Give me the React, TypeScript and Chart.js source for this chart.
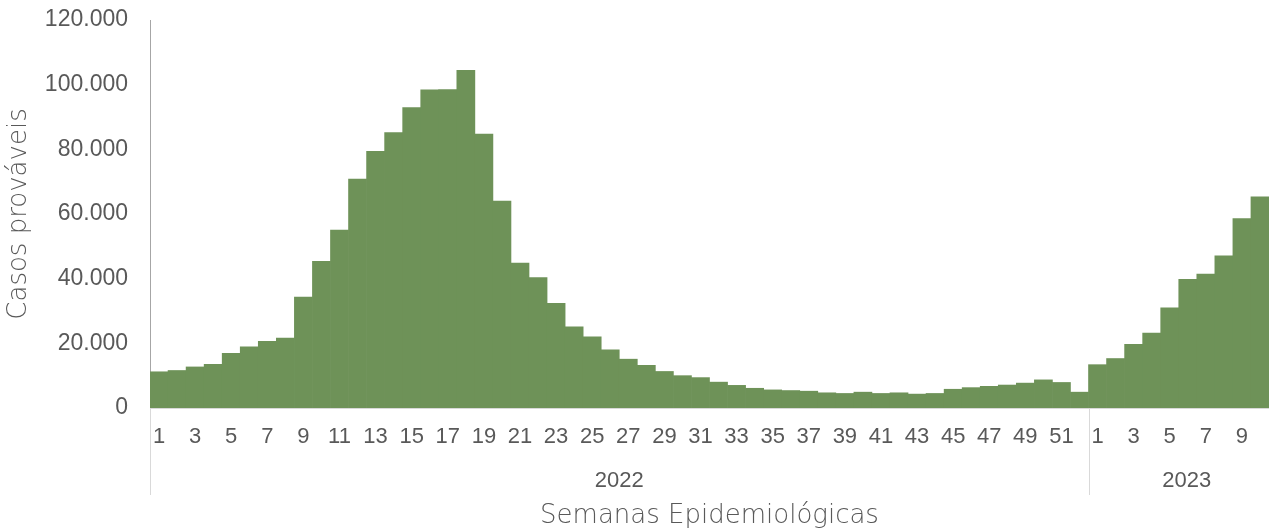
import React, { useEffect, useRef } from "react";
import { Chart, registerables } from "chart.js";

Chart.register(...registerables);

const years = ["2022", "2023"];
const weeks2022 = [
  11200, 11600, 12700, 13500, 16900, 18900, 20600, 21600, 34300, 45400,
  55000, 70800, 79400, 85200, 92900, 98400, 98500, 104400, 84700, 64000,
  44800, 40300, 32400, 25100, 22000, 18000, 15100, 13200, 11300, 10000,
  9400, 8000, 7000, 6100, 5600, 5400, 5200, 4700, 4500, 4900,
  4500, 4700, 4300, 4500, 5800, 6300, 6700, 7100, 7700, 8700,
  7900, 4900,
];
const weeks2023 = [13400, 15300, 19700, 23200, 31000, 39800, 41400, 47100, 58600, 65300];
const yTicks = [0, 20000, 40000, 60000, 80000, 100000, 120000];
const yTitle = "Casos prováveis";
const xTitle = "Semanas Epidemiológicas";

const series = [weeks2022, weeks2023];
const labels: string[] = [];
const values: number[] = [];
series.forEach((arr) => arr.forEach((v, i) => { labels.push(String(i + 1)); values.push(v); }));

const fmt = (v: number) => {
  const s = String(Math.round(v));
  return s.replace(/\B(?=(\d{3})+(?!\d))/g, ".");
};

const TEXT = "#595959";
const TICK_FONT = "'Liberation Sans', Arial, sans-serif";
const TITLE_FONT = "'DejaVu Sans', sans-serif";

const yearPlugin = {
  id: "yearGroups",
  afterDraw(chart: any) {
    const x = chart.scales.x;
    const ctx = chart.ctx;
    const n = labels.length;
    const step = (x.right - x.left) / n;
    const bottomY = 495;
    ctx.save();
    ctx.strokeStyle = "#d9d9d9";
    ctx.lineWidth = 1;
    let start = 0;
    const bounds: number[] = [0];
    series.forEach((arr) => { start += arr.length; bounds.push(start); });
    bounds.forEach((b) => {
      const px = Math.round(x.getPixelForValue(Math.min(b, n - 1)) + (b >= n ? step / 2 : -step / 2)) + 0.5;
      ctx.beginPath();
      ctx.moveTo(px, chart.chartArea.bottom);
      ctx.lineTo(px, bottomY);
      ctx.stroke();
    });
    ctx.fillStyle = TEXT;
    ctx.font = "22px " + TICK_FONT;
    ctx.textAlign = "center";
    ctx.textBaseline = "middle";
    years.forEach((yr, k) => {
      const l = x.getPixelForValue(bounds[k]) - step / 2;
      const r = x.getPixelForValue(bounds[k + 1] - 1) + step / 2;
      ctx.fillText(yr, (l + r) / 2 + (k === years.length - 1 ? 8 : 0), 481);
    });
    ctx.restore();
  },
};

function oddWeek(i: number) {
  return Number(labels[i]) % 2 === 1;
}

export default function App() {
  const ref = useRef<HTMLCanvasElement>(null);
  useEffect(() => {
    document.body.style.margin = "0";
    const chart = new Chart(ref.current!, {
      type: "bar",
      data: {
        labels,
        datasets: [
          {
            data: values,
            backgroundColor: "#6e9258",
            borderWidth: 0,
            categoryPercentage: 1,
            barPercentage: 1,
          },
        ],
      },
      options: {
        responsive: false,
        animation: false,
        devicePixelRatio: 1,
        layout: { padding: { top: 20, right: 0, left: 0, bottom: 0 } },
        plugins: { legend: { display: false }, tooltip: { enabled: false } },
        scales: {
          x: {
            grid: { display: false, drawTicks: false },
            border: { display: true, color: "#d9d9d9", width: 1 },
            ticks: {
              autoSkip: false,
              maxRotation: 0,
              padding: 16,
              color: TEXT,
              font: { family: TICK_FONT, size: 22 },
              callback: (_v: any, i: number) => (oddWeek(i) ? labels[i] : ""),
            },
            title: {
              display: true,
              text: xTitle,
              color: TEXT,
              font: { family: TITLE_FONT, size: 26, weight: "200" },
              padding: { top: 0, bottom: 0 },
            },
            afterFit: (s: any) => {
              s.height = 124;
              s.paddingLeft = 0;
              s.paddingRight = 0;
            },
          },
          y: {
            min: 0,
            max: 120000,
            grid: { display: false, drawTicks: false },
            border: { display: true, color: "#a6a6a6", width: 1 },
            afterBuildTicks: (s: any) => { s.ticks = yTicks.map((v) => ({ value: v })); },
            ticks: {
              padding: 22,
              color: TEXT,
              font: { family: TICK_FONT, size: 23 },
              callback: (v: any) => fmt(Number(v)),
            },
            title: {
              display: true,
              text: yTitle,
              color: TEXT,
              font: { family: TITLE_FONT, size: 26, weight: "200" },
              padding: { top: 4, bottom: 0 },
            },
            afterFit: (s: any) => {
              s.width = 150;
              s.paddingTop = 0;
              s.paddingBottom = 0;
            },
          },
        },
      },
      plugins: [yearPlugin],
    });
    return () => chart.destroy();
  }, []);
  return (
    <div style={{ width: 1269, height: 532 }}>
      <canvas ref={ref} width={1269} height={532} />
    </div>
  );
}
